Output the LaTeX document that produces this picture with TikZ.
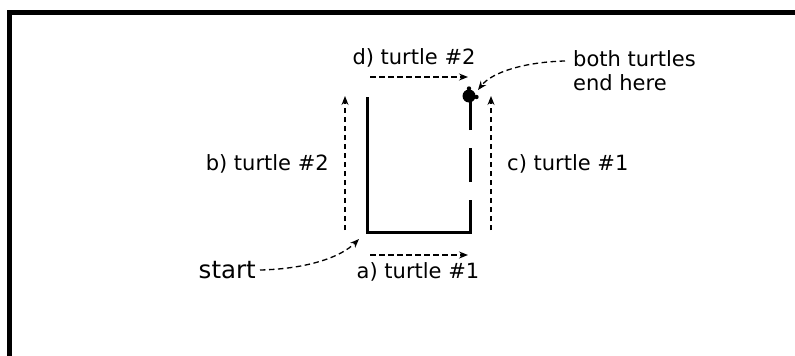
\documentclass[tikz,border=0pt]{standalone}
\usepackage{fontspec}
\setmainfont{DejaVu Sans}
\usetikzlibrary{arrows.meta}
\begin{document}
\begin{tikzpicture}[x=1pt,y=-1pt,
  lbl/.style={font=\fontsize{21}{24}\selectfont, inner sep=0pt},
  darrow/.style={dashed, dash pattern=on 5.5pt off 3.5pt, line width=1.3pt, -{Stealth[length=9pt,width=7pt]}},
  path/.style={line width=3pt}]
\useasboundingbox (0,0) rectangle (795,356);
% frame
\draw[gray!60, line width=1pt] (7,356) -- (7,10) -- (795,10);
\draw[line width=5pt] (9.5,356) -- (9.5,12.5) -- (795,12.5);
% turtle path
\coordinate (tl) at (367,97);
\coordinate (bl) at (367,232);
\coordinate (br) at (470,232);
\draw[path] (tl) -- (bl) -- (br) -- (470,200);
\draw[path] (470,182) -- (470,148);
\draw[path] (470,130) -- (470,96);
% turtle
\fill (469,96) circle (6.5);
\fill (469,88.5) circle (2.2);
\fill (476.5,97) circle (2.2);
\node[inner sep=0pt] (turtle) at (469,96) {};
% arrows
\coordinate (a1) at (370,255); \coordinate (a2) at (468,255);
\draw[darrow] (a1) -- (a2);
\coordinate (b1) at (345,230); \coordinate (b2) at (345,96);
\draw[darrow] (b1) -- (b2);
\coordinate (c1) at (491,230); \coordinate (c2) at (491,96);
\draw[darrow] (c1) -- (c2);
\coordinate (d1) at (370,77); \coordinate (d2) at (468,77);
\draw[darrow] (d1) -- (d2);
% labels
\node[lbl] (la) at (418,272) {a) turtle \#1};
\node[lbl, anchor=east] (lb) at (329,164) {b) turtle \#2};
\node[lbl, anchor=west] (lc) at (507,164) {c) turtle \#1};
\node[lbl] (ld) at (414,58) {d) turtle \#2};
\node[font=\fontsize{24.5}{28}\selectfont, inner sep=0pt, anchor=east] (start) at (256,270) {start};
\node[lbl, anchor=west, align=left] (end) at (573,71) {both turtles\\end here};
% pointers
\draw[darrow] (start.east) ++(4,0) .. controls (305,269) and (340,258) .. (359,239);
\draw[darrow] (end.west) ++(-8,-10) .. controls (525,62) and (492,72) .. (478,90);
\end{tikzpicture}
\end{document}
